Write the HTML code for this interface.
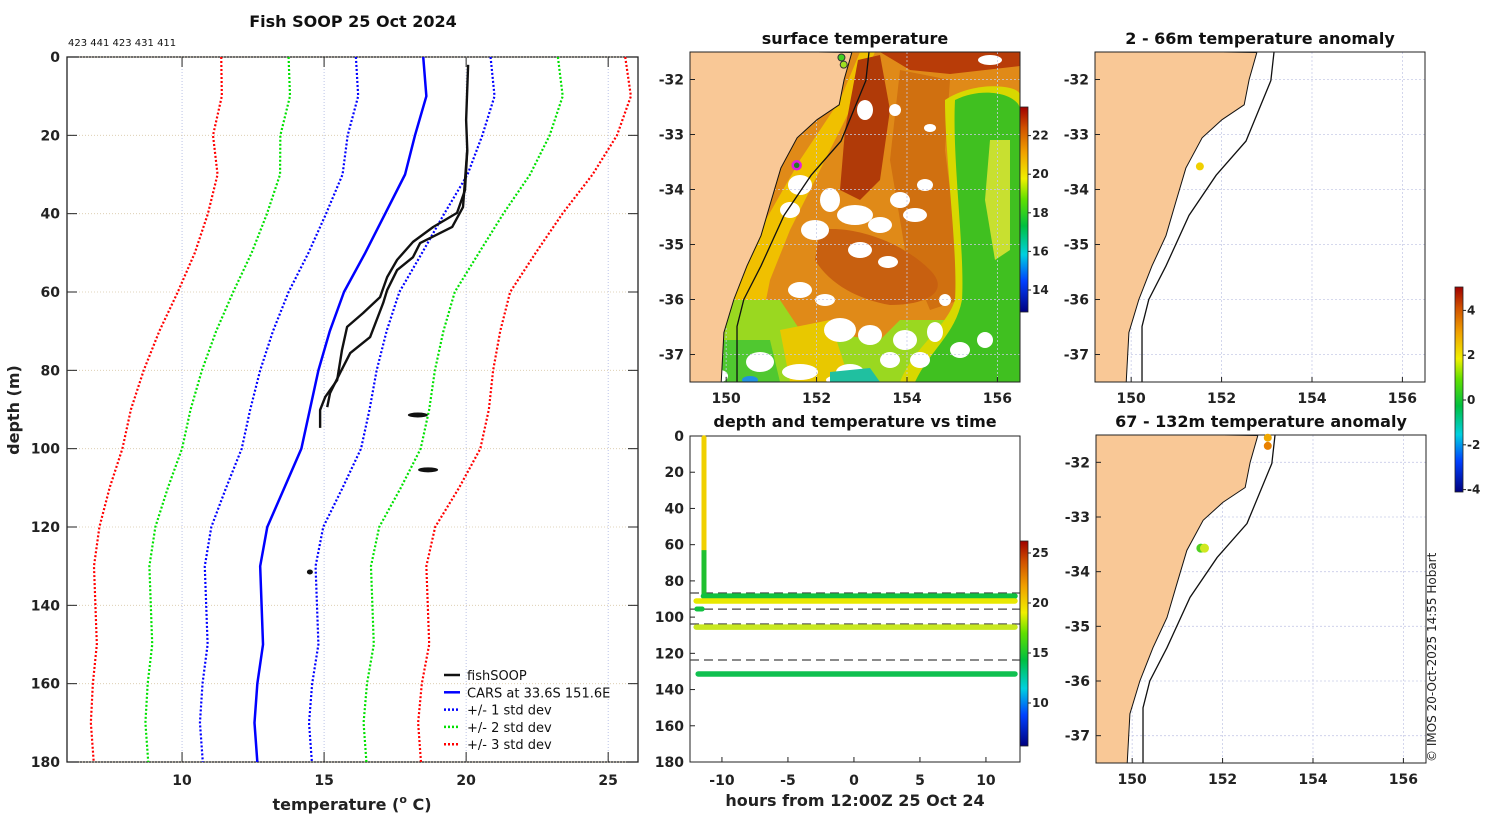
<!DOCTYPE html>
<html><head><meta charset="utf-8"><style>
body{margin:0;background:#fff;width:1500px;height:820px;overflow:hidden}
svg{font-family:"DejaVu Sans","Liberation Sans",sans-serif}
.t{font-weight:bold;font-size:14px;fill:#222}
.ttl{font-weight:bold;font-size:16px;fill:#111}
</style></head><body>
<svg id="s" width="1500" height="820" xmlns="http://www.w3.org/2000/svg">
<defs>
<linearGradient id="jet" x1="0" y1="1" x2="0" y2="0">
<stop offset="0" stop-color="#00007f"/><stop offset="0.15" stop-color="#0040ff"/><stop offset="0.28" stop-color="#00d0e0"/><stop offset="0.42" stop-color="#00c040"/><stop offset="0.55" stop-color="#60e000"/><stop offset="0.65" stop-color="#f0f000"/><stop offset="0.78" stop-color="#f0a000"/><stop offset="0.9" stop-color="#d05000"/><stop offset="1" stop-color="#a00000"/>
</linearGradient>
<clipPath id="c1"><rect x="690" y="52" width="330" height="330"/></clipPath>
<clipPath id="c2"><rect x="1095" y="52" width="330" height="330"/></clipPath>
<clipPath id="c3"><rect x="1096" y="435" width="330" height="328"/></clipPath>
<clipPath id="c4"><rect x="67" y="57" width="571" height="705"/></clipPath>
</defs>
<g id="main"></g>
<g id="sst"></g>
<g id="time"></g>
<g id="an1"></g>
<g id="an2"></g>
<text x="1436" y="762" transform="rotate(-90 1436 762)" font-size="12" fill="#222">© IMOS 20-Oct-2025 14:55 Hobart</text>
</svg>
<script>
// ---- profile data ----
const depths=[0,10,20,30,40,50,60,70,80,90,100,110,120,130,140,150,160,170,180];
const carsMean=[18.49,18.6,18.2,17.85,17.15,16.45,15.7,15.2,14.8,14.5,14.2,13.6,13.0,12.75,12.8,12.85,12.65,12.55,12.65];
const carsStd=[2.37,2.4,2.37,2.2,2.08,2.0,1.95,2.0,2.05,2.1,2.1,2.05,1.97,1.95,1.95,1.95,1.93,1.92,1.92];
const fishADepth=[2,16.1,23.7,34,39.8,43.4,47.2,51.8,56.2,61.3,65.4,68.9,74.8,82.5,86.8,90.1,94.7];
const fishATemp=[20.07,20.0,20.04,19.96,19.68,18.84,18.13,17.57,17.22,16.97,16.37,15.81,15.63,15.46,15.04,14.86,14.86];
const fishBDepth=[23.7,38.3,43.4,47.5,51.1,54.4,59.5,62.8,71.5,75.6,80.7,85.8,89.4];
const fishBTemp=[20.04,19.89,19.51,18.38,18.13,17.57,17.22,17.08,16.62,15.92,15.56,15.21,15.11];
const blobDepth=[91.4,105.4,131.5];
const blobTemp=[18.3,18.66,14.5];
const xTicks=[10,15,20,25];
const yTicks=[0,20,40,60,80,100,120,140,160,180];
// ---- time panel data ----
const bandDepth=[88.4,91.1,105.5,131.4];
const bandColor=["#10c040","#e8e800","#c8e820","#10c050"];
const bandStart=[-11.4,-11.95,-11.95,-11.8];
const bandEnd=[12.2,12.2,12.2,12.2];
const dashDepth=[86.7,95.6,103.8,123.7];
const tTicks=[-10,-5,0,5,10];
// ---- map data ----
const coastLon=[152.78,152.61,152.5,152.01,151.57,151.21,150.99,150.77,150.46,150.17,149.95,149.89];
const coastLat=[-31.51,-32,-32.46,-32.73,-33.06,-33.61,-34.22,-34.84,-35.39,-36.0,-36.6,-37.51];
const isoLon=[153.16,153.09,152.54,151.88,151.28,150.77,150.39,150.24,150.24];
const isoLat=[-31.5,-32.02,-33.12,-33.74,-34.47,-35.39,-36.0,-36.49,-37.51];
const lonTicks=[150,152,154,156];
const latTicks=[-32,-33,-34,-35,-36,-37];

const NS="http://www.w3.org/2000/svg";
function mk(p,tag,a,txt){const e=document.createElementNS(NS,tag);for(const k in a)e.setAttribute(k,a[k]);if(txt!==undefined)e.textContent=txt;p.appendChild(e);return e;}

// ===== main profile =====
const M=document.getElementById('main');
const px=t=>67+(t-5.95)*(571/(26.05-5.95));
const py=d=>57+d*(705/180);
mk(M,'rect',{x:67,y:57,width:571,height:705,fill:'none',stroke:'#222','stroke-width':1.3});
xTicks.forEach(v=>{let g=mk(M,'line',{x1:px(v),x2:px(v),y1:57,y2:762,stroke:'#aab4e0','stroke-dasharray':'1 2','stroke-width':0.8});
 mk(M,'line',{x1:px(v),x2:px(v),y1:762,y2:752,stroke:'#222'});mk(M,'line',{x1:px(v),x2:px(v),y1:57,y2:67,stroke:'#222'});
 let t=mk(M,'text',{x:px(v),y:785,'text-anchor':'middle',class:'t'},v);});
yTicks.forEach(v=>{let g=mk(M,'line',{x1:67,x2:638,y1:py(v),y2:py(v),stroke:'#d8c8a8','stroke-dasharray':'1 2','stroke-width':0.8});
 mk(M,'line',{x1:67,x2:77,y1:py(v),y2:py(v),stroke:'#222'});mk(M,'line',{x1:628,x2:638,y1:py(v),y2:py(v),stroke:'#222'});
 let t=mk(M,'text',{x:60,y:py(v)+5,'text-anchor':'end',class:'t'},v);});
const G=mk(M,'g',{'clip-path':'url(#c4)'});
function pl(xs,ys,st,name){const pts=xs.map((x,i)=>x+','+ys[i]).join(' ');const e=mk(G,'polyline',Object.assign({points:pts,fill:'none','stroke-linejoin':'round'},st));return e;}
[[3,'#ff0000'],[2,'#00e000'],[1,'#0000ff']].forEach(([k,c])=>{
 pl(depths.map((d,i)=>px(carsMean[i]-k*carsStd[i])),depths.map(py),{stroke:c,'stroke-width':2.2,'stroke-dasharray':'2 2'},'std-minus-'+k);
 pl(depths.map((d,i)=>px(carsMean[i]+k*carsStd[i])),depths.map(py),{stroke:c,'stroke-width':2.2,'stroke-dasharray':'2 2'},'std-plus-'+k);});
pl(carsMean.map(px),depths.map(py),{stroke:'#0000ff','stroke-width':2.5},'cars-mean-line');
pl(fishATemp.map(px),fishADepth.map(py),{stroke:'#111','stroke-width':2.4},'fishsoop-profile-down');
pl(fishBTemp.map(px),fishBDepth.map(py),{stroke:'#111','stroke-width':2.4},'fishsoop-profile-up');
blobDepth.forEach((d,i)=>{const e=mk(G,'ellipse',{cx:px(blobTemp[i]),cy:py(d),rx:i==2?3:10,ry:2.5,fill:'#111'});});
mk(M,'text',{x:353,y:27,'text-anchor':'middle',class:'ttl'},'Fish SOOP 25 Oct 2024');
mk(M,'text',{x:68,y:46,'font-size':10,fill:'#111'},'423 441 423 431 411');
const xt=mk(M,'text',{x:352,y:810,'text-anchor':'middle','font-size':16,'font-weight':'bold',fill:'#222'});

mk(xt,'tspan',{},'temperature (');mk(xt,'tspan',{dy:-7,'font-size':11},'o');mk(xt,'tspan',{dy:7},' C)');
mk(M,'text',{x:19,y:410,'text-anchor':'middle','font-size':16,'font-weight':'bold',fill:'#222',transform:'rotate(-90 19 410)'},'depth (m)');
const leg=[['fishSOOP','#111',null],['CARS at 33.6S 151.6E','#0000ff',null],['+/- 1 std dev','#0000ff','2 2'],['+/- 2 std dev','#00e000','2 2'],['+/- 3 std dev','#ff0000','2 2']];
leg.forEach((l,i)=>{const y=675+i*17.3;const g=mk(M,'g',{});
 const a={x1:444,x2:460,y1:y,y2:y,stroke:l[1],'stroke-width':2.5};if(l[2])a['stroke-dasharray']=l[2];mk(g,'line',a);
 mk(g,'text',{x:467,y:y+5,'font-size':13,fill:'#111'},l[0]);});

// ===== maps =====
const lx=(x0,w)=>lon=>x0+(lon-149.2)*(w/7.3);
const ly=(y0,h)=>lat=>y0+(-31.5-lat)*(h/6.0);
function landPath(X,Y,x0,y0,h){let d='M'+(x0-2)+','+(y0-2)+' ';coastLon.forEach((l,i)=>d+='L'+X(l)+','+Y(coastLat[i])+' ');d+='L'+(x0-2)+','+(y0+h+2)+'Z';return d;}
function drawMap(gid,x0,y0,w,h,clip,title,showX,sst){
 const P=document.getElementById(gid);const X=lx(x0,w),Y=ly(y0,h);
 const C=mk(P,'g',{'clip-path':'url(#'+clip+')'});
 if(sst){
  const S=C;
  mk(S,'rect',{x:x0,y:y0,width:w,height:h,fill:'#e08a18'});
  // nearshore yellow band
  mk(S,'path',{d:'M860,52 L875,52 L850,110 L820,170 L790,230 L770,280 L760,330 L760,382 L720,382 L730,300 L760,230 L800,160 L840,100Z',fill:'#f0c000'});
  // southern greenish/yellow region
  mk(S,'path',{d:'M720,300 L780,300 L800,330 L880,340 L900,320 L960,320 L1020,300 L1020,382 L720,382Z',fill:'#9ad820'});
  mk(S,'path',{d:'M720,340 L770,340 L780,382 L720,382Z',fill:'#50c830'});
  mk(S,'path',{d:'M780,330 L830,320 L850,382 L790,382Z',fill:'#e8c800'});
  // dark red north-center
  mk(S,'path',{d:'M858,60 L880,55 L890,110 L880,180 L860,200 L840,190 L845,130Z',fill:'#b03a08'});
  mk(S,'path',{d:'M880,52 L1020,52 L1020,66 L950,74 L910,70Z',fill:'#b83c08'});
  // eastern darker orange band
  mk(S,'path',{d:'M900,70 L950,80 L945,150 L955,230 L960,300 L930,310 L905,250 L890,160Z',fill:'#d07010'});
  // southern dark orange lobe
  mk(S,'path',{d:'M820,230 C850,225 900,240 930,270 C950,290 930,305 890,305 C860,300 830,285 815,260Z',fill:'#c86010'});
  // green eddy with yellow fringe
  mk(S,'path',{d:'M945,100 C975,80 1020,85 1020,95 L1020,382 L900,382 C915,345 945,330 955,300 C958,250 945,160 945,100Z',fill:'#d8d800'});
  mk(S,'path',{d:'M955,100 C985,85 1020,95 1020,110 L1020,382 L915,382 C930,350 955,335 962,300 C965,250 952,160 955,100Z',fill:'#40c020'});
  mk(S,'path',{d:'M990,140 L1010,140 L1010,250 L995,260 L985,200Z',fill:'#c8e030'});
  // clouds (white)
  [[800,185,12,10],[790,210,10,8],[815,230,14,10],[830,200,10,12],[855,215,18,10],[880,225,12,8],[900,200,10,8],[915,215,12,7],[925,185,8,6],[860,250,12,8],[888,262,10,6],[800,290,12,8],[825,300,10,6],[840,330,16,12],[870,335,12,10],[905,340,12,10],[935,332,8,10],[760,362,14,10],[800,372,18,8],[850,372,14,8],[890,360,10,8],[960,350,10,8],[985,340,8,8],[865,110,8,10],[895,110,6,6],[930,128,6,4],[990,60,12,5],[720,376,8,6],[700,372,6,8],[840,380,14,5],[945,300,6,6],[920,360,10,8]].forEach(c=>mk(S,'ellipse',{cx:c[0],cy:c[1],rx:c[2],ry:c[3],fill:'#fff'}));
  mk(S,'path',{d:'M830,372 L870,368 L880,382 L830,382Z',fill:'#20c0a0'});
  mk(S,'ellipse',{cx:750,cy:380,rx:8,ry:4,fill:'#2090e0'});
 }
 // grid
 lonTicks.forEach(v=>mk(C,'line',{x1:X(v),x2:X(v),y1:y0,y2:y0+h,stroke:'#c8cce8','stroke-dasharray':'2 2','stroke-width':0.8}));
 latTicks.forEach(v=>mk(C,'line',{x1:x0,x2:x0+w,y1:Y(v),y2:Y(v),stroke:'#c8cce8','stroke-dasharray':'2 2','stroke-width':0.8}));
 const land=mk(C,'path',{d:landPath(X,Y,x0,y0,h),fill:'#f9c896',stroke:'#111','stroke-width':1});
 
 const iso=mk(C,'polyline',{points:isoLon.map((l,i)=>X(l)+','+Y(isoLat[i])).join(' '),fill:'none',stroke:'#111','stroke-width':1.3});
 
 mk(P,'rect',{x:x0,y:y0,width:w,height:h,fill:'none',stroke:'#222','stroke-width':1});
 latTicks.forEach(v=>{mk(P,'line',{x1:x0,x2:x0+5,y1:Y(v),y2:Y(v),stroke:'#222'});
  const t=mk(P,'text',{x:x0-6,y:Y(v)+5,'text-anchor':'end',class:'t'},v);});
 lonTicks.forEach(v=>{mk(P,'line',{x1:X(v),x2:X(v),y1:y0+h,y2:y0+h-5,stroke:'#222'});
  if(showX){const t=mk(P,'text',{x:X(v),y:y0+h+21,'text-anchor':'middle',class:'t'},v);}});
 const tt=mk(P,'text',{x:x0+w/2,y:y0-8,'text-anchor':'middle',class:'ttl'},title);
 return {P,X,Y};
}
function dot(o,lon,lat,c,r,st){const e=mk(o.P,'circle',Object.assign({cx:o.X(lon),cy:o.Y(lat),r:r,fill:c},st||{}));}
const m1=drawMap('sst',690,52,330,330,'c1','surface temperature',true,true);
dot(m1,152.55,-31.6,'#40d020',3.5,{stroke:'#333','stroke-width':1});
dot(m1,152.6,-31.73,'#a0e020',3.5,{stroke:'#333','stroke-width':1});
dot(m1,151.56,-33.56,'#208020',4,{stroke:'#e020e0','stroke-width':2.5});
const m2=drawMap('an1',1095,52,330,330,'c2','2 - 66m temperature anomaly',true,false);
dot(m2,151.52,-33.58,'#f0d000',4);
const m3=drawMap('an2',1096,435,330,328,'c3','67 - 132m temperature anomaly',true,false);
dot(m3,153.0,-31.55,'#f0a800',4);dot(m3,153.0,-31.7,'#e88000',4);
dot(m3,151.52,-33.57,'#50d020',4.5);dot(m3,151.6,-33.57,'#d0e820',4.5);

// colorbars
const root=document.getElementById('s');
function cbar(x,y,h,vals,ypos,name){const g=mk(root,'g',{});
 mk(g,'rect',{x:x,y:y,width:8,height:h,fill:'url(#jet)',stroke:'#222','stroke-width':0.8});
 vals.forEach((v,i)=>{mk(g,'line',{x1:x+8,x2:x+11,y1:ypos(v),y2:ypos(v),stroke:'#222'});mk(g,'text',{x:x+12,y:ypos(v)+4,'font-size':12,'font-weight':'bold',fill:'#222'},v);});}
const sstTicks=[14,16,18,20,22];
cbar(1020,107,205,sstTicks,v=>290-(v-14)*19.3,'sst-colorbar');
const timeCbTicks=[10,15,20,25];
cbar(1020,541,205,timeCbTicks,v=>703-(v-10)*10,'time-colorbar');
const anomTicks=[-4,-2,0,2,4];
cbar(1455,287,205,anomTicks,v=>400-v*22.4,'anomaly-colorbar');

// ===== time panel =====
const T=document.getElementById('time');
const tx=h=>690+(h+12.42)*(330/25.0);
const ty=d=>436+d*(326/180);
mk(T,'rect',{x:690,y:436,width:330,height:326,fill:'none',stroke:'#222','stroke-width':1});
yTicks.forEach(v=>{mk(T,'line',{x1:690,x2:695,y1:ty(v),y2:ty(v),stroke:'#222'});
 const t=mk(T,'text',{x:684,y:ty(v)+5,'text-anchor':'end',class:'t'},v);});
tTicks.forEach(v=>{mk(T,'line',{x1:tx(v),x2:tx(v),y1:762,y2:757,stroke:'#222'});
 const t=mk(T,'text',{x:tx(v),y:785,'text-anchor':'middle',class:'t'},v);});
dashDepth.forEach(d=>{const e=mk(T,'line',{x1:690,x2:1020,y1:ty(d),y2:ty(d),stroke:'#444','stroke-dasharray':'9 5','stroke-width':1.2});});
const vd=mk(T,'line',{x1:tx(-11.36),x2:tx(-11.36),y1:ty(1),y2:ty(63),stroke:'#f0d000','stroke-width':5,'stroke-linecap':'round'});
mk(T,'line',{x1:tx(-11.36),x2:tx(-11.36),y1:ty(63),y2:ty(88),stroke:'#20c030','stroke-width':5});
mk(T,'line',{x1:tx(-11.9),x2:tx(-11.5),y1:ty(95.5),y2:ty(95.5),stroke:'#10c040','stroke-width':5,'stroke-linecap':'round'});
bandDepth.forEach((d,i)=>{const e=mk(T,'line',{x1:tx(bandStart[i]),x2:tx(bandEnd[i]),y1:ty(d),y2:ty(d),stroke:bandColor[i],'stroke-width':5.5,'stroke-linecap':'round'});});
mk(T,'text',{x:855,y:427,'text-anchor':'middle',class:'ttl'},'depth and temperature vs time');
mk(T,'text',{x:855,y:806,'text-anchor':'middle','font-size':16,'font-weight':'bold',fill:'#222'},'hours from 12:00Z 25 Oct 24');
</script>
</body></html>
